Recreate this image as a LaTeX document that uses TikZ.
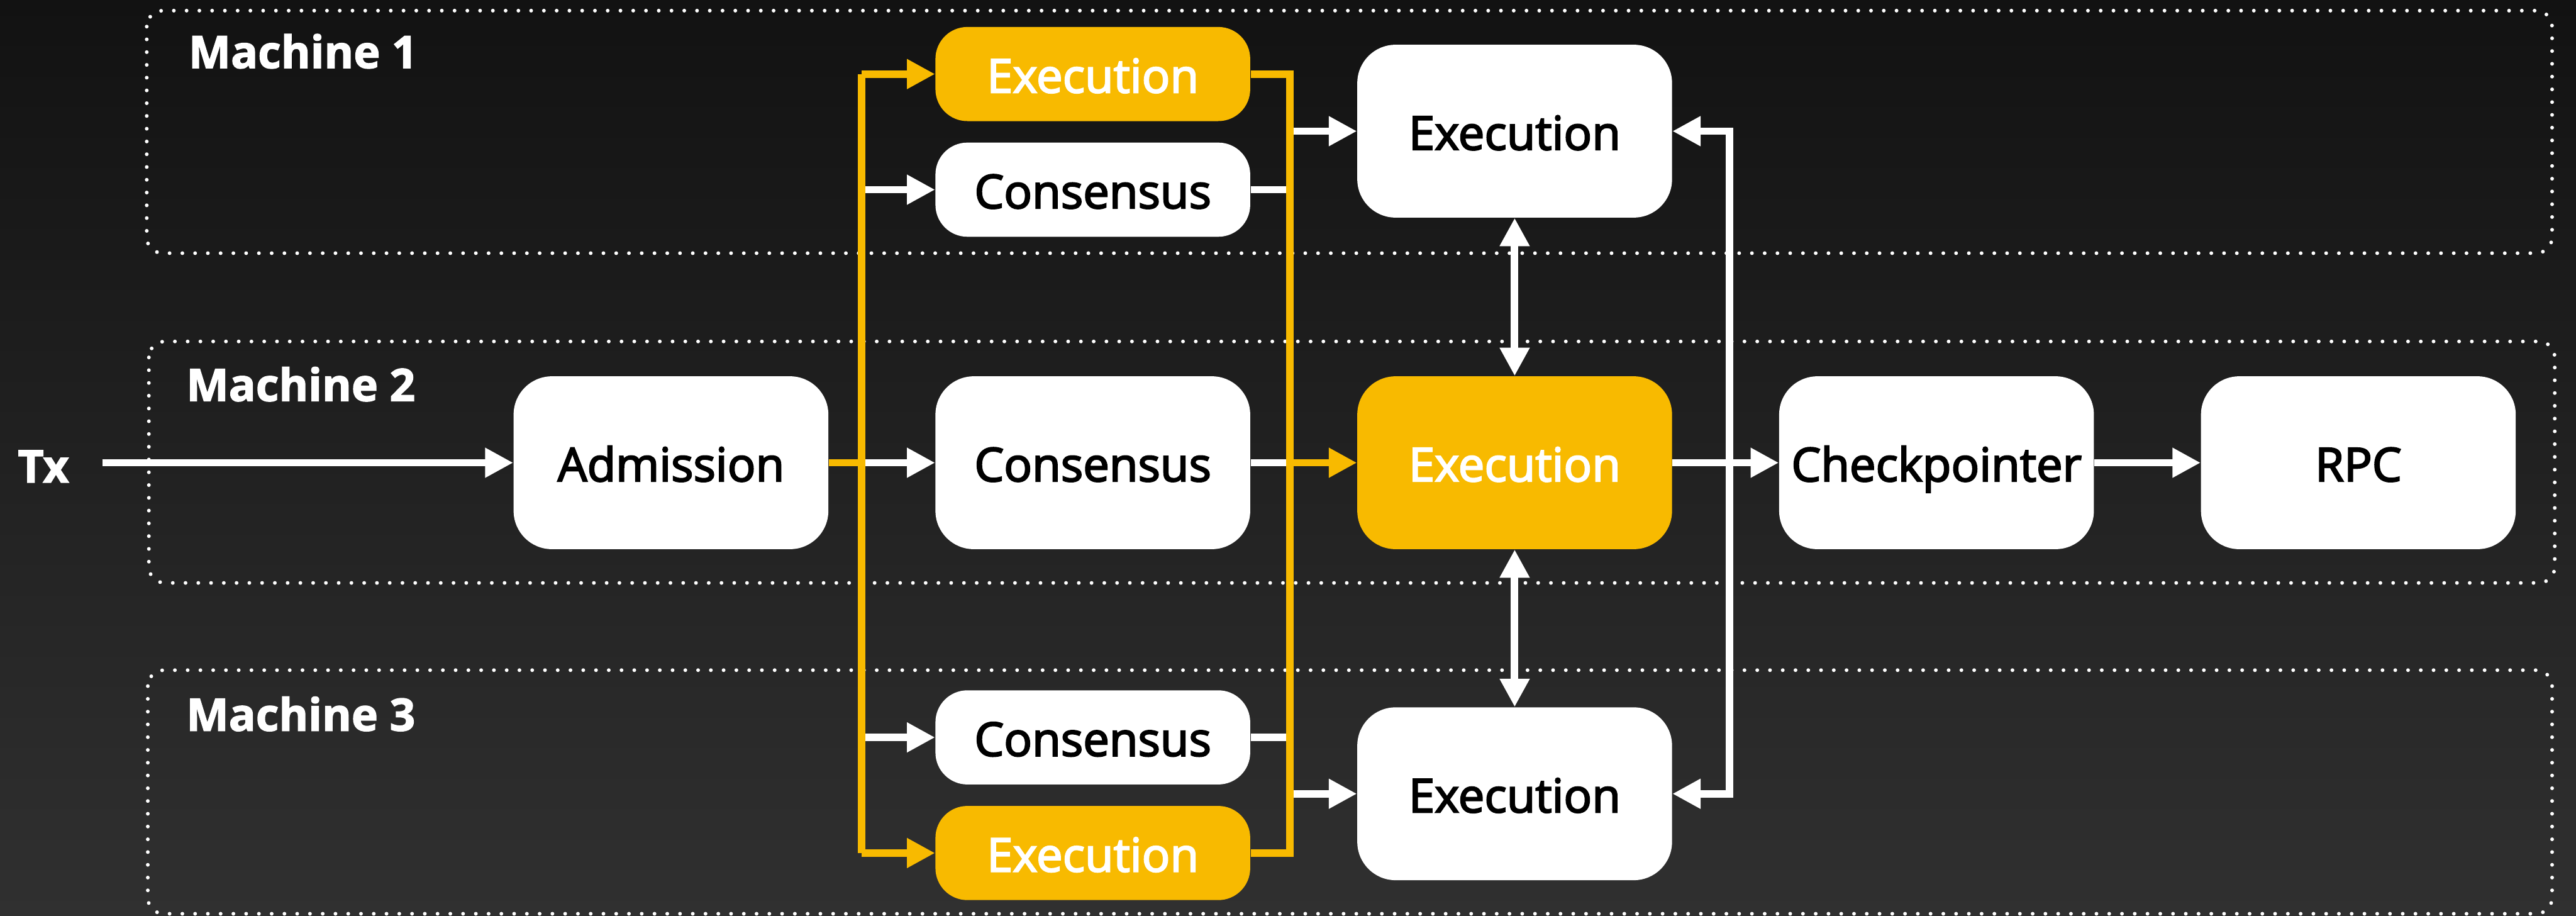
\documentclass[tikz,border=0pt]{standalone}
\usepackage{fontspec}
\setmainfont{Open Sans}
\newfontfamily\boxfont{Open Sans}[FakeBold=3]
\newfontfamily\headfont{Open Sans}[BoldFeatures={FakeBold=2}]
\usetikzlibrary{positioning,arrows.meta}

\definecolor{amber}{HTML}{F8BA00}
\definecolor{bgtop}{HTML}{121212}
\definecolor{bgbot}{HTML}{303030}

\begin{document}
\begin{tikzpicture}[
	>={Triangle[length=5.3mm, width=5.3mm]},
	blk/.style={rectangle, rounded corners=0.72cm, fill=white, text=black,
		minimum width=5.92cm, minimum height=3.25cm, inner sep=0pt,
		text height=0.7cm, text depth=0pt,
		font=\boxfont\fontsize{25}{29}\selectfont},
	sblk/.style={blk, minimum height=1.77cm, rounded corners=0.6cm},
	hot/.style={fill=amber, text=white},
	wl/.style={draw=white, line width=4pt},
	yl/.style={draw=amber, line width=4pt},
	machine/.style={draw=white, line width=2pt, line cap=round,
		dash pattern=on 0pt off 0.24cm, rounded corners=0.3cm},
	mlabel/.style={text=white, inner sep=0pt,
		font=\headfont\bfseries\fontsize{24}{28}\selectfont}]

	\useasboundingbox (0,0) rectangle (48.45,-17.22);
	\shade[top color=bgtop, bottom color=bgbot] (0,0) rectangle (48.45,-17.22);

	% machines
	\draw[machine] (2.76,-0.20) rectangle (48.00,-4.76);
	\draw[machine] (2.80,-6.42) rectangle (48.05,-10.96);
	\draw[machine] (2.78,-12.60) rectangle (48.00,-17.18);
	\node[mlabel, anchor=base west] (m1) at (3.54,-1.28) {Machine 1};
	\node[mlabel, anchor=base west] (m2) at (3.50,-7.54) {Machine 2};
	\node[mlabel, anchor=base west] (m3) at (3.50,-13.74) {Machine 3};

	% main row
	\node[mlabel, anchor=base west] (tx) at (0.33,-9.07) {Tx};
	\node[blk] (adm) at (12.62,-8.70) {Admission};
	\node[blk, right=2cm of adm] (cons2) {Consensus};
	\node[blk, hot, right=2cm of cons2] (exec2) {Execution};
	\node[blk, right=2cm of exec2] (ckpt) {Checkpointer};
	\node[blk, right=2cm of ckpt] (rpc) {RPC};

	\node[blk, above=2.97cm of exec2] (exec1) {Execution};
	\node[blk, below=2.96cm of exec2] (exec3) {Execution};

	\node[sblk, above=2.61cm of cons2] (cons1) {Consensus};
	\node[sblk, hot, above=0.39cm of cons1] (run1) {Execution};
	\node[sblk, below=2.64cm of cons2] (cons3) {Consensus};
	\node[sblk, hot, below=0.39cm of cons3] (run3) {Execution};

	% buses
	\coordinate (bl) at (16.21,0);
	\coordinate (br) at (24.26,0);
	\coordinate (bx) at (32.53,0);

	\draw[wl, ->, shorten <=0.62cm] (tx.east |- adm.west) -- (adm.west);
	\draw[wl, ->] (bl |- cons1) -- (cons1);
	\draw[wl, ->] (bl |- cons2) -- (cons2);
	\draw[wl, ->] (bl |- cons3) -- (cons3);
	\draw[wl] (cons1.east) -- (br |- cons1);
	\draw[wl] (cons2.east) -- (br |- cons2);
	\draw[wl] (cons3.east) -- (br |- cons3);
	\draw[wl, ->] (br |- exec1) -- (exec1);
	\draw[wl, ->] (br |- exec3) -- (exec3);

	\draw[yl] (adm.east) -- (bl |- adm);
	\draw[yl] (bl |- run1) -- (bl |- run3);
	\draw[yl, ->] (bl |- run1) -- (run1);
	\draw[yl, ->] (bl |- run3) -- (run3);
	\draw[yl] (run1.east) -| (br |- run3) -- (run3.east);
	\draw[yl, ->] (br |- exec2) -- (exec2);

	\draw[wl, <->] (exec1.south) -- (exec2.north);
	\draw[wl, <->] (exec2.south) -- (exec3.north);
	\draw[wl, ->] (exec2) -- (ckpt);
	\draw[wl, ->] (bx |- exec2) |- (exec1.east);
	\draw[wl, ->] (bx |- exec2) |- (exec3.east);
	\draw[wl, ->] (ckpt) -- (rpc);
\end{tikzpicture}
\end{document}
